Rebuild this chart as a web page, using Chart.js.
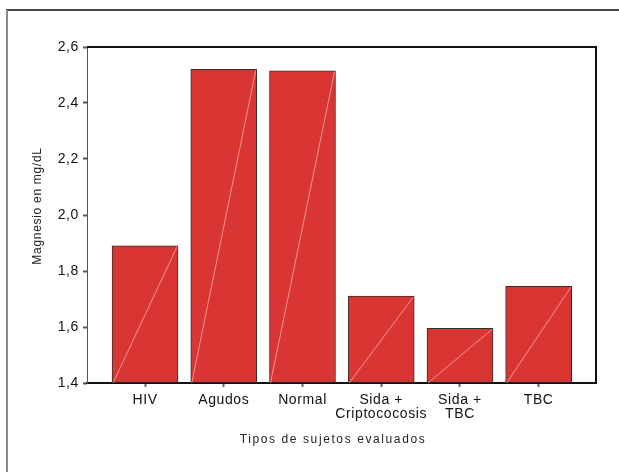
<!DOCTYPE html>
<html>
<head>
<meta charset="utf-8">
<script src="https://cdn.jsdelivr.net/npm/chart.js@4"></script>
<style>
  html, body { margin: 0; padding: 0; background: #fff; }
  #wrap { width: 619px; height: 472px; }
</style>
</head>
<body>
<div id="wrap"><canvas id="magnesio_plot" width="619" height="472"></canvas></div>
<script>
// data
const categories = ["HIV", "Agudos", "Normal", ["Sida +", "Criptococosis"], ["Sida +", "TBC"], "TBC"];
const magnesio = [1.89, 2.52, 2.515, 1.71, 1.595, 1.745];
const yMin = 1.4;
const yMax = 2.6;
const yStep = 0.2;
const xTitle = "Tipos de sujetos evaluados";
const yTitle = "Magnesio en mg/dL";

const FONT = "'Liberation Sans', Arial, sans-serif";

// frame, diagonals and spaced-out axis titles
const decor = {
    id: "decor",
    beforeDraw(chart) {
        const ctx = chart.ctx;
        ctx.save();
        ctx.fillStyle = "#fff";
        ctx.fillRect(0, 0, chart.width, chart.height);
        ctx.strokeStyle = "#444";
        ctx.lineWidth = 2;
        ctx.beginPath();
        ctx.moveTo(6, 10);
        ctx.lineTo(chart.width, 10);
        ctx.stroke();
        ctx.strokeStyle = "#888";
        ctx.beginPath();
        ctx.moveTo(7, 10);
        ctx.lineTo(7, chart.height);
        ctx.stroke();
        ctx.restore();
        ctx.letterSpacing = "0.6px";
    },
    afterDatasetsDraw(chart) {
        const ctx = chart.ctx;
        const area = chart.chartArea;
        ctx.save();
        ctx.strokeStyle = "rgba(255,210,210,0.75)";
        ctx.lineWidth = 0.8;
        chart.getDatasetMeta(0).data.forEach(bar => {
            const half = bar.width / 2;
            ctx.beginPath();
            ctx.moveTo(bar.x - half + 1, area.bottom);
            ctx.lineTo(bar.x + half - 1, bar.y + 1);
            ctx.stroke();
        });
        // top and right of the box
        ctx.strokeStyle = "#111";
        ctx.lineWidth = 2;
        ctx.beginPath();
        ctx.moveTo(area.left, area.top);
        ctx.lineTo(area.right, area.top);
        ctx.lineTo(area.right, area.bottom);
        ctx.stroke();
        ctx.restore();
    },
    afterDraw(chart) {
        const ctx = chart.ctx;
        ctx.save();
        ctx.fillStyle = "#222";
        ctx.font = "12px " + FONT;
        ctx.letterSpacing = "1.6px";
        ctx.textAlign = "center";
        ctx.textBaseline = "middle";
        ctx.fillText(xTitle, 333, 440);
        ctx.letterSpacing = "0.7px";
        ctx.translate(38, 206);
        ctx.rotate(-Math.PI / 2);
        ctx.fillText(yTitle, 0, 0);
        ctx.restore();
        ctx.letterSpacing = "0px";
    }
};

new Chart(document.getElementById("magnesio_plot"), {
    type: "bar",
    data: {
        datasets: [
            {
                data: magnesio.map((v, i) => ({ x: i, y: v })),
                base: yMin,
                backgroundColor: "#d93633",
                borderColor: "#3a2a2a",
                borderWidth: 1,
                borderSkipped: false,
                barThickness: 66
            }
        ]
    },
    options: {
        responsive: false,
        animation: false,
        devicePixelRatio: 1,
        layout: { padding: { left: 0, top: 47, right: 23, bottom: 0 } },
        plugins: {
            legend: { display: false },
            tooltip: { enabled: false }
        },
        scales: {
            x: {
                type: "linear",
                offset: false,
                min: -0.737,
                max: 5.728,
                afterBuildTicks: scale => {
                    scale.ticks = categories.map((c, i) => ({ value: i }));
                },
                afterFit: scale => { scale.height = 89; },
                ticks: {
                    autoSkip: false,
                    maxRotation: 0,
                    padding: 6,
                    color: "#111",
                    font: { family: FONT, size: 14, lineHeight: 1.0 },
                    callback: v => categories[v]
                },
                grid: {
                    offset: false,
                    drawOnChartArea: false,
                    drawTicks: true,
                    tickLength: 4,
                    tickWidth: 2,
                    tickColor: "#666"
                },
                border: { color: "#111", width: 2 }
            },
            y: {
                min: yMin,
                max: yMax,
                afterFit: scale => { scale.width = 87; },
                ticks: {
                    stepSize: yStep,
                    padding: 4,
                    color: "#111",
                    font: { family: FONT, size: 14 },
                    callback: v => v.toFixed(1).replace(".", ",")
                },
                grid: {
                    drawOnChartArea: false,
                    drawTicks: true,
                    tickLength: 4,
                    tickWidth: 2,
                    tickColor: "#555"
                },
                border: { color: "#555", width: 1 }
            }
        }
    },
    plugins: [decor]
});
</script>
</body>
</html>
